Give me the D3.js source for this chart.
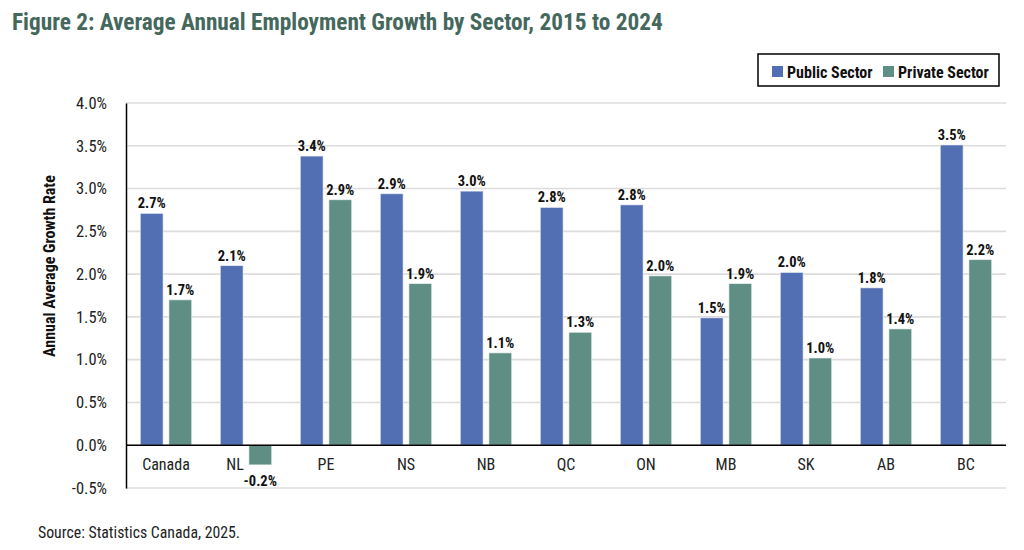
<!DOCTYPE html>
<html>
<head>
<meta charset="utf-8">
<script src="https://cdn.jsdelivr.net/npm/d3@7"></script>
<style>
  body { margin: 0; background: #fff; }
  svg text { font-family: "Roboto Condensed", Roboto, sans-serif; font-stretch: 75%; }
</style>
</head>
<body>
<div id="chart"></div>
<script>
// data
const regions = ["Canada", "NL", "PE", "NS", "NB", "QC", "ON", "MB", "SK", "AB", "BC"];
const publicSector = [2.71, 2.10, 3.38, 2.94, 2.97, 2.78, 2.81, 1.49, 2.02, 1.84, 3.51];
const privateSector = [1.70, -0.23, 2.87, 1.89, 1.08, 1.32, 1.98, 1.89, 1.02, 1.36, 2.17];
const seriesNames = ["Public Sector", "Private Sector"];
const yTicks = [-0.5, 0, 0.5, 1.0, 1.5, 2.0, 2.5, 3.0, 3.5, 4.0];

const COLORS = ["#536fb3", "#5f8e84"];
const W = 1024, H = 550;
const plot = { left: 126, right: 1006, top: 103, bottom: 488 };

let svg = d3.select("#chart").append("svg")
    .attr("width", W)
    .attr("height", H);

let x = d3.scaleBand()
    .domain(regions)
    .range([plot.left, plot.right])
    .paddingInner(0)
    .paddingOuter(0);
let x1 = d3.scaleBand()
    .domain(seriesNames)
    .range([0, x.bandwidth()])
    .paddingInner(0.2)
    .paddingOuter(0.5);
let y = d3.scaleLinear()
    .domain([-0.5, 4.0])
    .range([plot.bottom, plot.top]);

// gridlines
svg.append("g")
    .selectAll("line")
    .data(yTicks)
    .enter().append("line")
    .attr("x1", plot.left)
    .attr("x2", plot.right)
    .attr("y1", d => y(d))
    .attr("y2", d => y(d))
    .attr("stroke", "#dcdcdc")
    .attr("stroke-width", 1.6);

// y axis
let yAxis = svg.append("g")
    .attr("transform", "translate(" + plot.left + ",0)")
    .call(d3.axisLeft(y).tickValues(yTicks).tickSize(0).tickPadding(19)
        .tickFormat(d => d.toFixed(1) + "%"));
yAxis.select(".domain").attr("stroke", "#000").attr("stroke-width", 1.5);
yAxis.selectAll("text")
    .attr("font-size", 16.5)
    .attr("fill", "#222")
    .style("font-family", null);

// bars
const rows = regions.map((r, i) => ({ region: r, values: [publicSector[i], privateSector[i]] }));
let groups = svg.append("g")
    .selectAll("g")
    .data(rows)
    .enter().append("g")
    .attr("transform", d => "translate(" + x(d.region) + ",0)");

groups.selectAll("rect")
    .data(d => d.values.map((v, k) => ({ name: seriesNames[k], value: v, k: k })))
    .enter().append("rect")
    .attr("x", d => x1(d.name))
    .attr("width", x1.bandwidth())
    .attr("y", d => y(Math.max(0, d.value)))
    .attr("height", d => Math.abs(y(d.value) - y(0)))
    .attr("fill", d => COLORS[d.k])
    .attr("stroke", "#fff")
    .attr("stroke-opacity", 0.6)
    .attr("stroke-width", 1);

groups.selectAll("text.val")
    .data(d => d.values.map((v, k) => ({ name: seriesNames[k], value: v })))
    .enter().append("text")
    .attr("class", "val")
    .attr("x", d => x1(d.name) + x1.bandwidth() / 2)
    .attr("y", d => d.value >= 0 ? y(d.value) - 5 : y(d.value) + 21)
    .attr("text-anchor", "middle")
    .attr("font-size", 14.5)
    .attr("font-weight", "bold")
    .attr("fill", "#111")
    .text(d => d.value.toFixed(1) + "%");

// zero line + category labels
svg.append("line")
    .attr("x1", plot.left)
    .attr("x2", plot.right)
    .attr("y1", y(0))
    .attr("y2", y(0))
    .attr("stroke", "#000")
    .attr("stroke-width", 1.5);

svg.append("g")
    .selectAll("text")
    .data(rows)
    .enter().append("text")
    // when the private bar dips below zero, the label moves left of it
    .attr("x", d => d.values[1] < 0 ? x(d.region) + x1(seriesNames[1]) - 5 : x(d.region) + x.bandwidth() / 2)
    .attr("y", y(0) + 25)
    .attr("text-anchor", d => d.values[1] < 0 ? "end" : "middle")
    .attr("font-size", 16)
    .attr("fill", "#222")
    .text(d => d.region);

// y title
svg.append("text")
    .attr("transform", "translate(55,266) rotate(-90)")
    .attr("text-anchor", "middle")
    .attr("font-size", 16)
    .attr("font-weight", "bold")
    .attr("fill", "#111")
    .text("Annual Average Growth Rate");

// title
svg.append("text")
    .attr("x", 12)
    .attr("y", 30)
    .attr("font-size", 23.3)
    .attr("font-weight", "bold")
    .attr("fill", "#45685d")
    .text("Figure 2: Average Annual Employment Growth by Sector, 2015 to 2024");

// legend
let legend = svg.append("g");
legend.append("rect")
    .attr("x", 758).attr("y", 54)
    .attr("width", 241).attr("height", 32)
    .attr("fill", "#fff")
    .attr("stroke", "#000")
    .attr("stroke-width", 1.5);
const legendX = [772, 883];
seriesNames.forEach((name, k) => {
    legend.append("rect")
        .attr("x", legendX[k]).attr("y", 66)
        .attr("width", 11).attr("height", 11)
        .attr("fill", COLORS[k]);
    legend.append("text")
        .attr("x", legendX[k] + 15).attr("y", 77.5)
        .attr("font-size", 16)
        .attr("font-weight", "bold")
        .attr("fill", "#111")
        .text(name);
});

// source
svg.append("text")
    .attr("x", 38)
    .attr("y", 538)
    .attr("font-size", 15.8)
    .attr("fill", "#222")
    .text("Source: Statistics Canada, 2025.");
</script>
</body>
</html>
